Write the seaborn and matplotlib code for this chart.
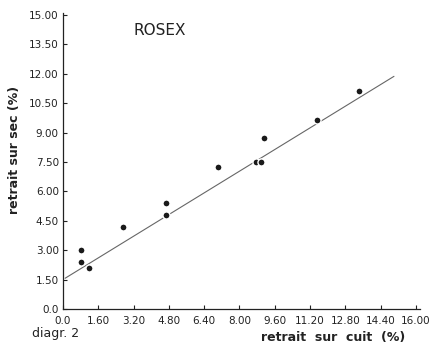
import matplotlib
matplotlib.use("Agg")
import matplotlib.pyplot as plt
import seaborn as sns
import pandas as pd

# Shrinkage measurements (%)
retrait_cuit = [0.82, 0.82, 1.18, 2.70, 4.66, 4.66, 7.02, 8.74, 8.97, 9.10, 11.50, 13.40]
retrait_sec = [3.00, 2.40, 2.10, 4.20, 5.40, 4.80, 7.24, 7.50, 7.50, 8.72, 9.64, 11.12]

# Fitted line end points
fit_x = [0.1, 15.0]
fit_y = [1.57, 11.87]

x_ticks = [0.0, 1.6, 3.2, 4.8, 6.4, 8.0, 9.6, 11.2, 12.8, 14.4, 16.0]
x_labels = ["0.0", "1.60", "3.20", "4.80", "6.40", "8.00", "9.60", "11.20", "12.80", "14.40", "16.00"]
y_ticks = [0.0, 1.5, 3.0, 4.5, 6.0, 7.5, 9.0, 10.5, 12.0, 13.5, 15.0]
y_labels = ["0.0", "1.50", "3.00", "4.50", "6.00", "7.50", "9.00", "10.50", "12.00", "13.50", "15.00"]

sns.set_theme(style="ticks")
plt.rcParams["font.family"] = ["DejaVu Sans"]

fig = plt.figure(figsize=(4.31, 3.53), dpi=100)
ax = fig.add_axes([0.146, 0.1246, 0.828, 0.8385])

pts = pd.DataFrame({"cuit": retrait_cuit, "sec": retrait_sec})
fit = pd.DataFrame({"x": fit_x, "y": fit_y})

sns.lineplot(data=fit, x="x", y="y", ax=ax, color="#666666", linewidth=0.8, zorder=2)
sns.scatterplot(data=pts, x="cuit", y="sec", ax=ax, color="#1a1a1a", s=26,
                edgecolor="white", linewidth=1.0, zorder=3)

ax.set_xlim(0, 16.17)
ax.set_ylim(0, 15.1)
ax.set_xticks(x_ticks)
ax.set_xticklabels(x_labels)
ax.set_yticks(y_ticks)
ax.set_yticklabels(y_labels)
ax.tick_params(direction="in", length=3, width=0.8, labelsize=7.5, colors="#222222", pad=3)
ax.tick_params(axis="x", pad=5)
sns.despine(ax=ax)
for side in ("left", "bottom"):
    ax.spines[side].set_linewidth(0.9)
    ax.spines[side].set_color("#222222")

ax.set_xlabel("")
ax.set_ylabel("retrait sur sec (%)", fontsize=9, fontweight="bold", color="#222222")
ax.yaxis.set_label_coords(-0.118, 0.537)

ax.text(3.2, 14.2, "ROSEX", fontsize=11, color="#222222", va="center", ha="left")
fig.text(0.94, 0.045, "retrait  sur  cuit  (%)", fontsize=9, fontweight="bold",
         color="#222222", ha="right", va="center")
fig.text(0.074, 0.055, "diagr. 2", fontsize=9, color="#222222", ha="left", va="center")

fig.savefig("out.png", dpi=100, facecolor="white")
